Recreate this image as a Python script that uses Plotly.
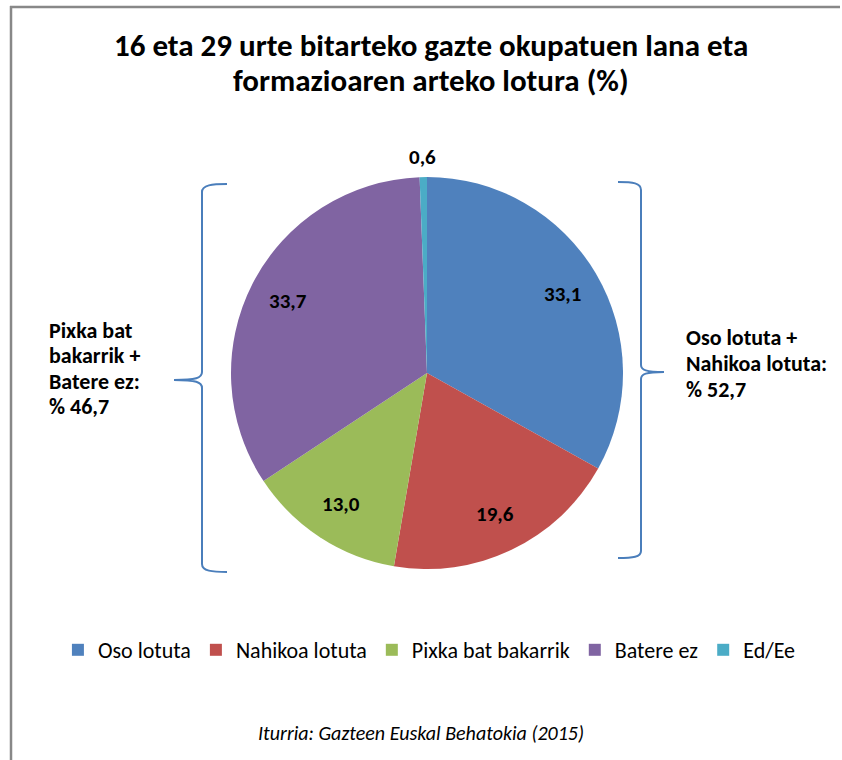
import math
import plotly.graph_objects as go

# ---- data ----
categories = ["Oso lotuta", "Nahikoa lotuta", "Pixka bat bakarrik", "Batere ez", "Ed/Ee"]
values = [33.1, 19.6, 13.0, 33.7, 0.6]
value_labels = ["33,1", "19,6", "13,0", "33,7", "0,6"]
colors = ["#4F81BD", "#C0504D", "#9BBB59", "#8064A2", "#4BACC6"]
title_lines = ["16 eta 29 urte bitarteko gazte okupatuen lana eta", "formazioaren arteko lotura (%)"]
left_group = ["Pixka bat", "bakarrik +", "Batere ez:", "% 46,7"]
right_group = ["Oso lotuta +", "Nahikoa lotuta:", "% 52,7"]
source = "Iturria: Gazteen Euskal Behatokia (2015)"

W, H = 842, 760
FONT = "Carlito, 'Liberation Sans Narrow', 'Open Sans', sans-serif"

# pie geometry in pixels
cx, cy, r = 427, 373, 196

fig = go.Figure()
fig.add_trace(go.Pie(
    labels=categories, values=values, sort=False, direction="clockwise",
    rotation=0, marker=dict(colors=colors, line=dict(width=0)),
    textinfo="none", hoverinfo="label+value",
    domain=dict(x=[(cx - r) / W, (cx + r) / W], y=[1 - (cy + r) / H, 1 - (cy - r) / H]),
    showlegend=True,
))

annotations = []
# data labels computed from slice mid-angles
total = sum(values)
cum = 0.0
for v, lab in zip(values, value_labels):
    mid = (cum + v / 2) / total * 2 * math.pi
    cum += v
    f = 0.8 if v > 2 else 1.1
    x = cx + f * r * math.sin(mid)
    y = cy - f * r * math.cos(mid)
    annotations.append(dict(x=x, y=y, xref="x", yref="y", text=f"<b>{lab}</b>",
                            showarrow=False, font=dict(family=FONT, size=21, color="#000")))

for i, line in enumerate(title_lines):
    annotations.append(dict(x=431, y=45 + 35 * i, xref="x", yref="y", text=f"<b>{line}</b>",
                            showarrow=False, font=dict(family=FONT, size=31, color="#000")))
for i, line in enumerate(left_group):
    annotations.append(dict(x=47, y=330 + 25.5 * i, xref="x", yref="y", xanchor="left",
                            text=f"<b>{line}</b>", showarrow=False,
                            font=dict(family=FONT, size=22, color="#000")))
for i, line in enumerate(right_group):
    annotations.append(dict(x=684, y=337 + 26 * i, xref="x", yref="y", xanchor="left",
                            text=f"<b>{line}</b>", showarrow=False,
                            font=dict(family=FONT, size=22, color="#000")))
annotations.append(dict(x=421, y=733, xref="x", yref="y", text=f"<i>{source}</i>",
                        showarrow=False, font=dict(family=FONT, size=20, color="#000")))

bc = "#4A7EBB"
left_brace = ("M 227,184 C 212,184 202,185 202,192 L 202,372 C 202,378 196,380 174,380 "
              "C 196,380 202,382 202,388 L 202,564 C 202,571 212,572 227,572")
right_brace = ("M 618,182 C 633,182 641,183 641,190 L 641,365 C 641,370 646,372 664,372 "
               "C 646,372 641,374 641,379 L 641,551 C 641,557 633,558 618,558")
shapes = [
    dict(type="path", path=left_brace, xref="x", yref="y", line=dict(color=bc, width=2)),
    dict(type="path", path=right_brace, xref="x", yref="y", line=dict(color=bc, width=2)),
    dict(type="line", x0=11, x1=11, y0=6, y1=760, xref="x", yref="y", line=dict(color="#888888", width=2.5)),
    dict(type="line", x0=10, x1=840, y0=7, y1=7, xref="x", yref="y", line=dict(color="#888888", width=2.5)),
]

fig.update_layout(
    width=W, height=H, margin=dict(l=0, r=0, t=0, b=0),
    paper_bgcolor="white", plot_bgcolor="rgba(0,0,0,0)",
    xaxis=dict(range=[0, W], visible=False, domain=[0, 1], fixedrange=True),
    yaxis=dict(range=[H, 0], visible=False, domain=[0, 1], fixedrange=True),
    annotations=annotations, shapes=shapes,
    legend=dict(orientation="h", x=0.51, xanchor="center", y=1 - 650 / H, yanchor="middle",
                font=dict(family=FONT, size=22, color="#000"), itemwidth=30,
                traceorder="normal", tracegroupgap=0),
)
fig.write_html("out.html", config={"displayModeBar": False},
               post_script="document.body.style.margin='0';document.body.style.overflow='hidden';"
                           "document.documentElement.style.overflow='hidden';")
